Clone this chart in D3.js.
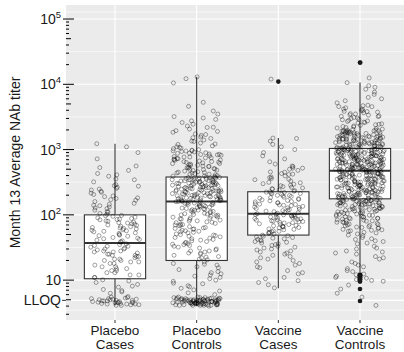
<!DOCTYPE html>
<html>
<head>
<meta charset="utf-8">
<script src="https://cdnjs.cloudflare.com/ajax/libs/d3/7.8.5/d3.min.js"></script>
<style>
	html, body { margin: 0; padding: 0; background: #fff; }
	svg { display: block; font-family: 'Liberation Sans', Arial, Helvetica, sans-serif; }
</style>
</head>
<body>
<div id="chart"></div>
<script>
var groups = ['Placebo Cases', 'Placebo Controls', 'Vaccine Cases', 'Vaccine Controls'];
var LLOQ = 4.9;
var yTickValues = [LLOQ, 10, 1e2, 1e3, 1e4, 1e5];

// box statistics
var boxLower = [4.1, 4.0, 7.5, 13.3];
var boxQ1 = [10.5, 20, 49, 176];
var boxMedian = [37, 160, 104, 475];
var boxQ3 = [100, 380, 226, 1040];
var boxUpper = [1230, 13000, 1500, 10700];
var outliers = [
	[],
	[],
	[11000],
	[21500, 12.2, 11.9, 11.7, 11.4, 11.1, 10.9, 10.6, 10.3, 10.1, 9.8, 9.5, 7.3, 4.8]
];

// individual titers (jittered points)
var placeboCases = [
	4.3,4.6,5.1,4.8,4.2,5.4,4.5,4.9,4.1,5.2,4.7,4.4,5.0,4.6,4.3,5.5,4.8,4.2,5.3,4.5,4.9,4.7,4.1,5.1,4.4,5.6,4.6,4.3,5.0,4.8,4.5,5.2,
	6.3,7.8,9.2,6.9,8.6,10.1,7.2,9.7,8.1,6.6,
	11,13,12,15,17,14,19,22,18,25,21,27,24,30,33,28,35,16,20,23,26,29,31,34,12,14,18,21,24,27,32,36,13,16,19,23,28,11,15,25,30,33,20,
	38,41,45,52,48,56,61,67,59,73,80,88,95,43,50,64,70,77,84,92,40,47,55,62,69,76,85,98,39,44,53,58,66,72,81,90,42,49,57,63,75,86,97,
	105,118,132,150,171,190,215,240,265,290,110,125,140,160,182,205,230,255,280,112,128,145,168,195,222,248,275,102,138,178,
	320,355,390,430,480,530,410,345,560,
	720,900,1100,1230
];
var placeboControls = [
	4.2,4.5,4.8,5.1,4.3,4.9,5.4,4.1,4.6,5.0,4.4,4.7,5.2,4.0,4.8,5.3,4.5,4.2,4.9,5.5,4.3,4.6,5.1,4.4,4.7,5.0,4.1,4.8,5.2,4.5,
	4.3,5.4,4.6,4.9,4.2,5.1,4.7,4.4,5.0,4.8,4.1,5.3,4.5,4.6,4.9,4.2,5.2,4.4,4.7,5.0,4.3,4.8,5.5,4.5,4.1,4.9,5.1,4.6,4.2,4.7,
	5.0,4.4,4.8,5.3,4.3,4.5,5.2,4.9,4.1,4.6,5.4,4.7,4.2,5.0,4.4,4.8,5.1,4.3,4.5,4.9,
	6.0,7.5,9.0,11,13,16,19,6.8,8.2,10.5,12,14.5,17.5,7.1,8.8,9.6,11.5,13.5,15.5,18,6.4,7.9,10,12.5,17,
	21,23,26,29,33,37,42,47,53,60,68,76,85,95,106,118,131,145,158,
	22,25,28,32,36,40,45,51,57,64,72,81,90,100,112,125,138,152,
	24,27,31,35,39,44,50,56,63,71,80,89,99,110,122,135,148,
	20.5,30,34,38,43,48,54,61,69,78,87,97,108,120,133,146,156,
	26,41,55,66,74,83,93,103,115,127,140,150,
	22.5,35.5,49,62,77,92,104,117,129,142,154,
	28,46,58,70,86,101,113,124,137,149,159,
	162,170,178,187,196,206,216,227,238,250,262,275,289,303,318,334,351,368,
	165,174,183,192,201,211,221,232,244,256,268,282,296,310,326,342,360,376,
	168,176,185,194,204,214,224,235,247,259,272,285,299,314,330,346,364,
	160.5,172,181,190,199,209,219,230,241,253,265,279,292,307,322,338,355,372,
	163,180,198,218,240,263,288,316,347,378,
	167,189,212,236,260,286,313,340,369,
	171,195,223,252,281,312,344,375,177,205,233,270,301,333,366,
	385,400,418,437,457,478,500,523,547,572,598,625,654,684,715,748,782,818,855,894,935,978,
	392,428,468,512,560,612,669,732,800,875,957,
	410,450,492,538,588,643,703,769,841,920,995,
	395,445,505,575,655,745,845,960,
	420,485,555,635,725,830,950,
	440,530,690,880,610,770,
	1030,1080,1140,1200,1260,1330,1400,1480,1560,1650,1740,1840,1950,2060,2180,2300,2450,2600,2750,2900,1100,1350,1700,2200,1050,1220,1520,1900,
	3200,3500,3900,4600,5300,3050,12200,10500,13000
];
var vaccineCases = [
	7.6,8.5,9.8,11,12.5,14,15.5,17,19,21,23,25,27,29,31,33,35,37,39,41,43,45,47,49,
	9.2,13,16,20,24,28,32,36,40,44,48,
	18,22,26,30,34,38,42,46,10.5,
	51,53,55,57,59,61,63,65,67,69,71,73,75,77,79,81,83,85,87,89,91,93,95,97,99,101,
	52,56,60,64,68,72,76,80,84,88,92,96,100,
	54,66,78,90,102,
	104,108,112,116,120,125,130,135,140,146,152,158,164,170,177,184,191,199,207,215,223,
	106,114,122,132,142,154,166,180,195,210,225,
	110,128,148,172,198,220,
	118,138,160,186,212,144,
	230,240,252,265,280,295,310,330,350,372,395,420,450,480,520,560,
	235,258,285,315,345,380,415,455,500,548,600,
	248,300,360,430,520,270,
	650,720,800,900,1000,1100,1200,1350,1480,1500,
	12000
];
var vaccineControls = [
	4.1,5.5,6.3,7.3,8.4,9.6,10.2,11.0,11.8,12.4,9.9,10.7,11.5,12.1,
	13.5,15,17,19,21,23,25,27,30,33,36,39,42,45,48,14,18,22,26,31,37,43,49,16,28,40,
	51,54,57,60,63,66,69,72,75,78,81,84,87,90,93,96,99,53,59,65,71,77,83,89,95,56,62,68,74,80,86,92,98,58,70,82,94,64,76,88,
	101,104,107,110,113,116,119,122,125,128,131,134,137,140,143,146,149,152,155,158,161,164,167,170,173,
	102,108,114,120,126,132,138,144,150,156,162,168,174,
	105,115,125,135,145,155,165,175,
	111,123,139,151,163,
	118,130,142,154,166,172,103,147,159,
	178,184,190,196,202,209,216,223,230,238,246,254,262,271,280,289,299,309,319,330,341,352,364,376,388,401,414,428,442,457,472,
	181,193,205,218,232,247,263,279,297,316,336,357,380,404,430,457,
	187,199,212,226,241,257,273,291,310,330,351,374,398,423,450,
	177,186,197,208,220,235,250,266,283,301,320,340,362,385,410,436,464,
	179,188,201,214,228,243,259,276,294,313,333,354,377,401,426,453,
	183,195,207,221,236,252,268,286,305,325,346,368,392,417,444,470,
	192,213,237,261,288,318,349,383,420,461,
	180,204,229,255,284,314,347,382,418,455,
	198,244,293,345,406,467,225,300,395,
	480,495,510,526,542,559,576,594,612,631,651,671,692,713,735,758,781,805,830,856,882,909,937,966,996,1027,
	485,505,527,549,572,596,621,647,674,702,731,762,794,827,861,897,934,973,1013,
	490,515,540,566,593,622,652,683,716,751,787,825,865,907,951,998,
	478,500,523,547,572,598,625,654,684,715,748,782,818,855,894,935,978,1022,
	488,520,554,590,628,668,711,757,806,858,913,972,1035,
	498,535,574,616,661,709,761,817,877,941,1010,
	482,530,583,641,705,775,852,937,1030,
	493,560,636,722,820,931,
	503,598,711,845,1005,
	512,639,798,996,
	476,545,605,680,740,800,870,960,1015,520,700,900,617,
	1050,1070,1090,1110,1130,1150,1175,1200,1225,1250,1275,1300,1330,1360,1390,1420,1450,1480,1510,1545,1580,1615,1650,1690,1730,1770,1810,1850,1890,1940,1990,
	1060,1100,1140,1185,1230,1280,1330,1385,1440,1500,1560,1625,1690,1760,1830,1905,1980,
	1080,1125,1170,1215,1265,1315,1370,1425,1485,1545,1610,1675,1745,1815,1890,1965,
	1045,1160,1290,1410,1530,1660,1800,1950,
	1095,1240,1350,1470,1600,1720,1860,
	1120,1380,1640,1920,1210,1460,
	2030,2100,2180,2260,2350,2440,2540,2640,2750,2860,2980,3100,3230,3370,3510,3660,3820,3990,4170,4360,4560,4780,
	2060,2220,2400,2590,2800,3030,3280,3550,3850,4180,4540,
	2140,2480,2900,3400,3950,4700,
	2300,2700,3200,3750,
	5200,5600,6000,6300,7000,7600,8400,9000,9500,10600,12500,
	21500
];
var groupPoints = [placeboCases, placeboControls, vaccineCases, vaccineControls];

(function() {
	'use strict';

	var width = 404, height = 352;
	var panel = { left: 66, right: 409, top: 5, bottom: 320 };

	var svg = d3.select('#chart')
		.append('svg')
		.attr('width', width)
		.attr('height', height);

	/*** Scales ---> ***/
	var x = d3.scalePoint()
		.domain(groups)
		.range([panel.left, panel.right])
		.padding(0.6);

	var y = d3.scaleLog()
		.domain([LLOQ / 2, 164000])
		.range([panel.bottom, panel.top]);

	var step = x.step();
	var boxWidth = step * 0.75;
	var jitterWidth = step * 0.3;
	/*** <--- Scales ***/

	// deterministic jitter so the picture is stable between runs
	function jitter(i, g) {
		var s = Math.sin((i + 1) * 12.9898 + (g + 1) * 78.233) * 43758.5453;
		return s - Math.floor(s);
	}

	// panel background
	svg.append('rect')
		.attr('x', panel.left)
		.attr('y', panel.top)
		.attr('width', panel.right - panel.left)
		.attr('height', panel.bottom - panel.top)
		.attr('fill', '#ebebeb');

	var gridLayer = svg.append('g');

	// minor gridlines halfway (in log space) between the breaks
	var breaksAll = [y.domain()[0]].concat(yTickValues, [y.domain()[1]]);
	var minor = [];
	for (var i = 0; i < breaksAll.length - 1; i++) {
		minor.push(Math.sqrt(breaksAll[i] * breaksAll[i + 1]));
	}
	gridLayer.selectAll('line.minor')
		.data(minor)
		.enter()
		.append('line')
		.attr('class', 'minor')
		.attr('x1', panel.left).attr('x2', panel.right)
		.attr('y1', function(d) { return y(d); })
		.attr('y2', function(d) { return y(d); })
		.attr('stroke', '#fff')
		.attr('stroke-width', 0.6);

	gridLayer.selectAll('line.major')
		.data(yTickValues)
		.enter()
		.append('line')
		.attr('class', 'major')
		.attr('x1', panel.left).attr('x2', panel.right)
		.attr('y1', function(d) { return y(d); })
		.attr('y2', function(d) { return y(d); })
		.attr('stroke', '#fff')
		.attr('stroke-width', 1.1);

	gridLayer.selectAll('line.vert')
		.data(groups)
		.enter()
		.append('line')
		.attr('class', 'vert')
		.attr('x1', function(d) { return x(d); })
		.attr('x2', function(d) { return x(d); })
		.attr('y1', panel.top).attr('y2', panel.bottom)
		.attr('stroke', '#fff')
		.attr('stroke-width', 1.1);

	/*** Boxplots ---> ***/
	var boxes = groups.map(function(g, i) {
		return { name: g, lower: boxLower[i], q1: boxQ1[i], median: boxMedian[i], q3: boxQ3[i], upper: boxUpper[i], outliers: outliers[i] };
	});

	var boxLayer = svg.append('g');
	var boxG = boxLayer.selectAll('g.box')
		.data(boxes)
		.enter()
		.append('g')
		.attr('class', 'box');

	boxG.append('line')
		.attr('x1', function(d) { return x(d.name); })
		.attr('x2', function(d) { return x(d.name); })
		.attr('y1', function(d) { return y(d.q3); })
		.attr('y2', function(d) { return y(d.upper); })
		.attr('stroke', '#333')
		.attr('stroke-width', 1.1);

	boxG.append('line')
		.attr('x1', function(d) { return x(d.name); })
		.attr('x2', function(d) { return x(d.name); })
		.attr('y1', function(d) { return y(d.q1); })
		.attr('y2', function(d) { return y(d.lower); })
		.attr('stroke', '#333')
		.attr('stroke-width', 1.1);

	boxG.append('rect')
		.attr('x', function(d) { return x(d.name) - boxWidth / 2; })
		.attr('width', boxWidth)
		.attr('y', function(d) { return y(d.q3); })
		.attr('height', function(d) { return y(d.q1) - y(d.q3); })
		.attr('fill', '#fff')
		.attr('stroke', '#333')
		.attr('stroke-width', 1.1);

	boxG.append('line')
		.attr('x1', function(d) { return x(d.name) - boxWidth / 2; })
		.attr('x2', function(d) { return x(d.name) + boxWidth / 2; })
		.attr('y1', function(d) { return y(d.median); })
		.attr('y2', function(d) { return y(d.median); })
		.attr('stroke', '#333')
		.attr('stroke-width', 2);

	boxG.selectAll('circle.outlier')
		.data(function(d) { return d.outliers.map(function(v) { return { name: d.name, value: v }; }); })
		.enter()
		.append('circle')
		.attr('class', 'outlier')
		.attr('cx', function(d) { return x(d.name); })
		.attr('cy', function(d) { return y(d.value); })
		.attr('r', 2.3)
		.attr('fill', '#1a1a1a');
	/*** <--- Boxplots ***/

	/*** Jittered points ---> ***/
	var points = [];
	groupPoints.forEach(function(values, g) {
		values.forEach(function(v, i) {
			points.push({ name: groups[g], value: v, dx: (jitter(i, g) * 2 - 1) * jitterWidth });
		});
	});

	svg.append('g')
		.selectAll('circle')
		.data(points)
		.enter()
		.append('circle')
		.attr('cx', function(d) { return x(d.name) + d.dx; })
		.attr('cy', function(d) { return y(d.value); })
		.attr('r', 2)
		.attr('fill', 'none')
		.attr('stroke', '#000')
		.attr('stroke-opacity', 0.45)
		.attr('stroke-width', 0.8);
	/*** <--- Jittered points ***/

	/*** Axes ---> ***/
	// log ticks drawn inside the panel at the left edge
	var logTicks = y.ticks();
	function mantissa(d) {
		return Math.round(d / Math.pow(10, Math.floor(Math.log10(d) + 1e-9)));
	}
	svg.append('g')
		.selectAll('line')
		.data(logTicks)
		.enter()
		.append('line')
		.attr('x1', function(d) { return mantissa(d) === 1 ? 63 : panel.left; })
		.attr('x2', function(d) {
			var m = mantissa(d);
			return panel.left + (m === 1 ? 8 : (m === 5 ? 5 : 3));
		})
		.attr('y1', function(d) { return y(d); })
		.attr('y2', function(d) { return y(d); })
		.attr('stroke', '#000')
		.attr('stroke-width', 1);

	// axis tick for LLOQ
	svg.append('line')
		.attr('x1', 62).attr('x2', panel.left)
		.attr('y1', y(LLOQ)).attr('y2', y(LLOQ))
		.attr('stroke', '#333')
		.attr('stroke-width', 1);

	var yLabels = svg.append('g')
		.selectAll('text')
		.data(yTickValues)
		.enter()
		.append('text')
		.attr('x', 61)
		.attr('y', function(d) { return y(d) + 5; })
		.attr('text-anchor', 'end')
		.attr('font-size', 14)
		.attr('fill', '#1a1a1a');

	yLabels.each(function(d) {
		var t = d3.select(this);
		if (d === LLOQ) {
			t.text('LLOQ');
		}
		else if (d === 10) {
			t.text('10');
		}
		else {
			t.append('tspan').text('10');
			t.append('tspan')
				.attr('font-size', 9.5)
				.attr('dy', -6)
				.text(Math.round(Math.log10(d)));
		}
	});

	// x axis ticks and two-line labels
	svg.append('g')
		.selectAll('line')
		.data(groups)
		.enter()
		.append('line')
		.attr('x1', function(d) { return x(d); })
		.attr('x2', function(d) { return x(d); })
		.attr('y1', panel.bottom)
		.attr('y2', panel.bottom + 3)
		.attr('stroke', '#333');

	var xLabels = svg.append('g')
		.selectAll('text')
		.data(groups)
		.enter()
		.append('text')
		.attr('text-anchor', 'middle')
		.attr('font-size', 13.5)
		.attr('fill', '#1a1a1a');

	xLabels.each(function(d) {
		var t = d3.select(this);
		d.split(' ').forEach(function(word, i) {
			t.append('tspan')
				.attr('x', x(d))
				.attr('y', 335 + i * 14)
				.text(word);
		});
	});

	svg.append('text')
		.attr('transform', 'translate(20,' + ((panel.top + panel.bottom) / 2) + ') rotate(-90)')
		.attr('text-anchor', 'middle')
		.attr('font-size', 14)
		.attr('fill', '#1a1a1a')
		.text('Month 13 Average NAb titer');
	/*** <--- Axes ***/
})();
</script>
</body>
</html>
